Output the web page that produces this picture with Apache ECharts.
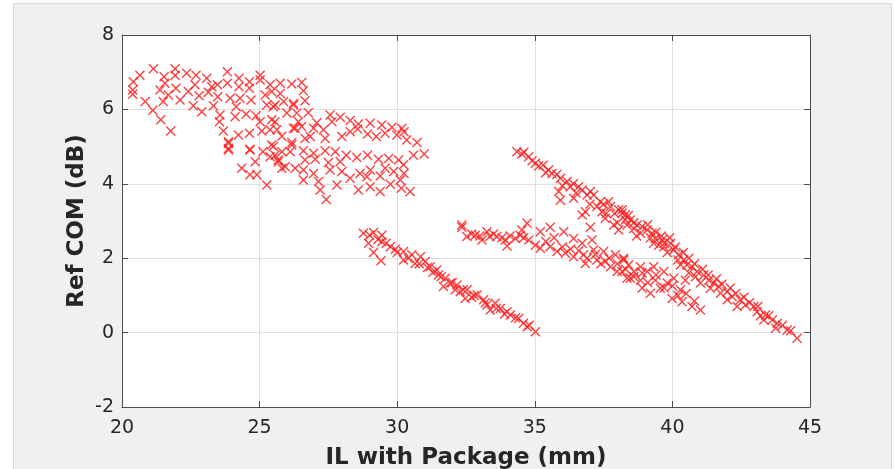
<!DOCTYPE html>
<html>
<head>
<meta charset="utf-8">
<script src="https://cdn.jsdelivr.net/npm/echarts@6/dist/echarts.min.js"></script>
<style>
  html, body { margin: 0; padding: 0; background: #fff; }
  #chart { width: 895px; height: 469px; }
</style>
</head>
<body>
<div id="chart"></div>
<script>
// upper-left blob
const blobPoints = [
  [20.41,6.74],[20.39,6.52],[20.39,6.41],[20.65,6.92],[21.14,7.09],[21.53,6.88],[21.56,6.70],
  [21.93,7.09],[21.93,6.91],[22.35,6.97],[22.69,6.92],[23.08,6.84],[23.47,6.66],[23.83,7.01],
  [23.83,6.70],[24.25,6.84],[24.25,6.61],[24.63,6.74],[24.63,6.57],[25.02,6.92],[25.02,6.79],
  [25.38,6.66],[21.38,6.52],[21.68,6.39],[21.50,6.21],[21.96,6.57],[22.11,6.25],[22.41,6.48],
  [22.65,6.66],[22.80,6.37],[23.14,6.46],[23.26,6.61],[23.48,6.34],[22.59,6.10],[22.90,5.94],
  [23.32,6.10],[23.56,5.85],[23.54,5.67],[20.84,6.21],[21.12,5.98],[21.41,5.72],[21.77,5.42],
  [23.93,6.30],[24.15,6.07],[24.29,6.30],[24.11,5.80],[24.51,5.87],[24.69,6.25],[24.87,5.83],
  [25.20,6.39],[25.26,6.12],[25.02,5.67],[25.44,5.72],[25.38,5.45],[23.68,5.42],[23.87,5.09],
  [23.87,4.91],[24.23,5.31],[24.63,5.36],[24.65,4.91],[25.08,5.42],[25.12,4.86],[25.44,5.04],
  [24.84,4.59],[24.35,4.42],[24.65,4.24],[24.90,4.24],[25.26,3.97],[25.56,4.77],
  [25.75,6.70],[26.17,6.68],[26.53,6.72],[26.59,6.50],[25.87,6.21],[26.23,6.16],[26.65,6.23],
  [25.50,6.07],[25.99,5.90],[26.35,5.90],[26.77,5.91],[25.56,5.67],[26.41,5.67],[26.29,5.49],
  [27.08,5.64],[27.56,5.85],[27.93,5.79],[28.29,5.70],[28.59,5.61],[27.63,5.67],[29.02,5.63],
  [29.44,5.58],[29.81,5.52],[30.17,5.49],[30.25,5.40],[25.81,5.28],[26.96,5.49],[27.32,5.45],
  [26.84,5.27],[27.38,5.22],[27.99,5.27],[28.29,5.40],[28.56,5.47],[28.92,5.34],[29.24,5.27],
  [29.56,5.36],[29.99,5.31],[30.35,5.18],[30.72,5.11],[30.98,4.80],[30.59,4.77],[26.17,5.11],
  [26.11,4.86],[26.59,4.89],[26.96,4.82],[27.38,4.89],[27.75,4.86],[28.15,4.77],[28.53,4.71],
  [28.92,4.77],[29.32,4.66],[29.69,4.68],[30.05,4.64],[25.50,5.00],[25.68,4.59],[25.93,4.46],
  [26.29,4.42],[26.65,4.64],[27.02,4.66],[27.50,4.57],[27.93,4.59],[26.59,4.37],[26.96,4.28],
  [27.56,4.37],[27.99,4.33],[28.29,4.15],[28.65,4.28],[29.02,4.37],[28.90,4.19],[29.38,4.21],
  [29.56,4.42],[29.87,4.33],[30.11,4.10],[30.23,4.51],[30.25,4.28],[26.59,4.10],[27.20,3.83],
  [27.42,3.58],[27.81,3.97],[28.59,3.83],[29.02,3.92],[29.38,3.79],[29.75,3.99],[30.15,3.88],
  [30.47,3.79],[25.75,6.43],[25.44,6.48],[25.56,6.12],[26.23,6.12],[25.63,5.45],[26.23,5.49],
  [26.53,5.54],[26.65,5.22],[26.17,5.04],[25.68,4.64],[27.14,4.06],[23.87,5.13],[23.87,4.95],
  [24.65,4.93],[25.38,4.73],[25.81,4.42],[25.81,4.86]
];

// middle diagonal
const midPoints = [
  [28.77,2.67],[29.14,2.69],[28.96,2.40],[29.44,2.62],[29.44,2.44],[29.14,2.15],[29.41,1.93],
  [29.75,2.31],[29.93,2.24],[30.23,2.18],[30.23,1.95],[30.53,2.09],[30.65,1.86],[31.02,1.91],
  [31.20,1.77],[31.44,1.68],[31.50,1.55],[31.75,1.46],[31.93,1.33],[32.17,1.28],[32.29,1.10],
  [32.54,1.15],[32.47,0.92],[32.90,1.01],[33.14,0.88],[33.26,0.74],[33.56,0.79],[33.75,0.65],
  [33.99,0.56],[34.11,0.47],[34.41,0.38],[34.59,0.25],[35.02,0.02],[34.72,0.16],[32.11,1.15],
  [33.38,0.61],[31.68,1.24],[30.84,2.04],[29.60,2.40],[31.30,1.62],[32.70,0.95],[33.90,0.50],
  [29.00,2.62],[29.30,2.50],[30.00,2.15],[30.40,2.00],[30.80,1.85],[31.10,1.75],[31.60,1.50],
  [32.00,1.35],[32.40,1.15],[32.80,1.00],[33.20,0.80],[33.60,0.65],[34.30,0.40],[34.80,0.20]
];

// upper right band
const upperBand = [
  [34.35,4.86],[34.53,4.80],[34.78,4.73],[35.02,4.55],[35.14,4.48],[35.50,4.37],[35.62,4.28],
  [35.93,4.15],[36.17,4.06],[36.29,3.92],[36.59,3.92],[36.72,3.83],[37.02,3.79],[37.14,3.70],
  [37.38,3.52],[37.68,3.52],[37.75,3.39],[38.05,3.30],[38.17,3.21],[38.29,3.03],[35.87,3.79],
  [35.93,3.56],[36.41,3.61],[37.26,3.39],[37.44,3.25],[37.56,3.07],[37.87,2.89],[38.05,2.76],
  [38.29,3.16],[38.47,3.03],[38.72,2.89],[39.08,2.76],[39.26,2.67],[39.38,2.53],[39.63,2.49],
  [39.69,2.31],[39.93,2.40],[40.05,2.22],[40.23,2.09],[40.41,1.95],[40.53,1.82],[40.71,1.77],
  [40.90,1.64],[41.14,1.55],[41.32,1.41],[41.50,1.33],[41.68,1.24],[41.99,1.10],[42.17,0.97],
  [42.47,0.88],[42.65,0.74],[42.96,0.70],[43.08,0.56],[43.38,0.47],[43.63,0.34],[43.81,0.25],
  [44.17,0.07],[44.53,-0.15],[43.75,0.12],[43.32,0.34],[42.35,0.70],[41.99,0.88],[41.75,1.06],
  [41.38,1.19],[41.02,1.33],[40.84,1.50],[40.29,1.82],[39.81,2.15],[39.32,2.40],[38.84,2.67],
  [38.35,2.89],[38.17,3.30],[36.84,3.25],[36.72,3.16],[38.60,2.80],[39.50,2.35],[40.60,1.60],
  [34.60,4.85],[34.90,4.62],[35.30,4.50],[35.40,4.30],[35.80,4.25],[36.00,3.95],[36.40,4.00],
  [36.50,3.75],[36.90,3.70],[37.00,3.45],[37.50,3.45],[37.60,3.20],[37.90,3.20],[38.00,2.95],
  [38.40,3.15],[38.60,2.95],[38.70,2.60],[38.90,2.85],[39.10,2.90],[39.20,2.55],[39.40,2.70],
  [39.60,2.60],[39.70,2.40],[39.90,2.55],[40.10,2.30],[40.20,1.95],[40.40,2.15],[40.60,2.00],
  [40.80,1.85],[41.10,1.70],[41.30,1.55],[41.60,1.45],[41.80,1.30],[42.10,1.20],[42.30,1.05],
  [42.60,0.95],[42.80,0.80],[43.10,0.70],[43.20,0.45],[43.50,0.45],[44.00,0.20],[44.30,0.05]
];

// lower right band
const lowerBand = [
  [32.35,2.83],[32.35,2.89],[32.53,2.58],[32.84,2.62],[33.08,2.49],[33.26,2.71],[33.36,2.58],
  [33.62,2.58],[33.93,2.49],[33.99,2.33],[34.29,2.53],[34.47,2.62],[34.53,2.76],[34.72,2.94],
  [34.78,2.49],[35.02,2.35],[35.20,2.71],[35.20,2.27],[35.56,2.83],[35.56,2.31],[35.81,2.18],
  [36.05,2.71],[36.11,2.13],[36.41,2.53],[36.41,2.04],[36.72,2.40],[36.77,2.09],[36.84,1.86],
  [37.08,2.49],[37.14,2.22],[37.26,1.95],[37.50,2.18],[37.56,1.91],[37.75,1.77],[37.93,2.09],
  [37.99,1.64],[38.23,1.95],[38.35,1.46],[37.02,2.83],[38.23,2.00],[38.41,1.82],[38.60,1.64],
  [38.84,1.77],[38.84,1.41],[39.08,1.64],[39.20,1.06],[39.32,1.77],[39.38,1.41],[39.56,1.19],
  [39.69,1.64],[39.81,1.33],[39.99,0.92],[40.05,1.46],[40.29,1.15],[40.35,0.83],[40.47,1.41],
  [40.71,0.70],[41.02,0.61],[38.17,1.64],[38.47,1.46],[38.90,1.20],
  [35.40,2.45],[35.70,2.55],[36.00,2.30],[36.30,2.25],[36.60,2.20],[36.90,2.00],[37.20,2.10],
  [37.40,1.85],[37.70,2.00],[38.00,1.85],[38.30,1.70],[38.60,1.50],[38.90,1.60],[39.10,1.35],
  [39.40,1.55],[39.70,1.20],[40.00,1.25],[40.20,1.00],[40.50,1.05],[40.80,0.85],
  [32.70,2.65],[33.00,2.60],[33.50,2.65],[33.80,2.55],[34.10,2.60],[34.60,2.55]
];

const xTicks = { min: 20, max: 45, interval: 5 };
const yTicks = { min: -2, max: 8, interval: 2 };

const chart = echarts.init(document.getElementById('chart'));

const tickFont = { color: '#262626', fontSize: 19, fontFamily: 'DejaVu Sans' };
const titleFont = { color: '#262626', fontSize: 23, fontWeight: 'bold', fontFamily: 'DejaVu Sans' };
const axisLineStyle = { color: '#4d4d4d', width: 1 };

// thin filled "x" outline, so the marker is drawn as a fill
const xMark = 'path://M0,1L1,0L5,4L9,0L10,1L6,5L10,9L9,10L5,6L1,10L0,9L4,5Z';

function markerSeries(data) {
  return {
    type: 'scatter',
    data: data,
    symbol: xMark,
    symbolSize: 10,
    itemStyle: { color: '#ff2020', opacity: 0.85 },
    emphasis: { disabled: true },
    silent: true
  };
}

chart.setOption({
  backgroundColor: '#ffffff',
  animation: false,
  graphic: [{
    type: 'rect', z: -10, silent: true,
    shape: { x: 13.5, y: 3.5, width: 878, height: 480 },
    style: { fill: '#f0f0f0', stroke: '#d9d9d9', lineWidth: 1 }
  }, {
    type: 'rect', z: -9, silent: true,
    shape: { x: 122, y: 35, width: 688, height: 372 },
    style: { fill: '#ffffff' }
  }],
  grid: { left: 122, top: 35, width: 688, height: 372, containLabel: false, outerBoundsMode: 'none' },
  xAxis: [{
    type: 'value', min: xTicks.min, max: xTicks.max, interval: xTicks.interval,
    name: 'IL with Package (mm)', nameLocation: 'middle', nameGap: 40,
    nameTextStyle: titleFont,
    axisLine: { show: true, onZero: false, lineStyle: axisLineStyle },
    axisTick: { show: true, inside: true, length: 6, lineStyle: axisLineStyle },
    axisLabel: Object.assign({ margin: 12 }, tickFont),
    splitLine: { show: true, lineStyle: { color: '#dfdfdf', width: 1 } }
  }, {
    type: 'value', position: 'top', min: xTicks.min, max: xTicks.max, interval: xTicks.interval,
    axisLine: { show: true, onZero: false, lineStyle: axisLineStyle },
    axisTick: { show: true, inside: true, length: 6, lineStyle: axisLineStyle },
    axisLabel: { show: false }, splitLine: { show: false }
  }],
  yAxis: [{
    type: 'value', min: yTicks.min, max: yTicks.max, interval: yTicks.interval,
    name: 'Ref COM (dB)', nameLocation: 'middle', nameGap: 33, nameMoveOverlap: false,
    nameTextStyle: titleFont,
    axisLine: { show: true, onZero: false, lineStyle: axisLineStyle },
    axisTick: { show: true, inside: true, length: 6, lineStyle: axisLineStyle },
    axisLabel: Object.assign({ margin: 8 }, tickFont),
    splitLine: { show: true, lineStyle: { color: '#dfdfdf', width: 1 } }
  }, {
    type: 'value', position: 'right', min: yTicks.min, max: yTicks.max, interval: yTicks.interval,
    axisLine: { show: true, onZero: false, lineStyle: axisLineStyle },
    axisTick: { show: true, inside: true, length: 6, lineStyle: axisLineStyle },
    axisLabel: { show: false }, splitLine: { show: false }
  }],
  series: [
    markerSeries(blobPoints),
    markerSeries(midPoints),
    markerSeries(upperBand),
    markerSeries(lowerBand)
  ]
});
</script>
</body>
</html>
